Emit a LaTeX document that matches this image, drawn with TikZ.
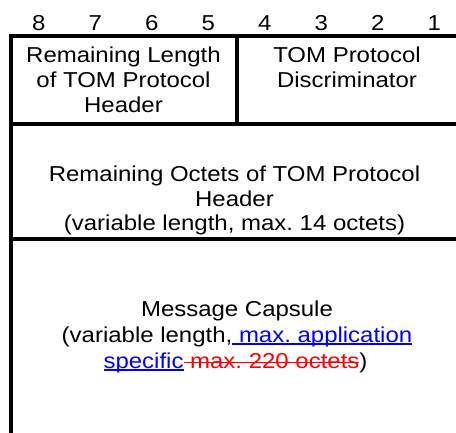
\documentclass[tikz,border=0pt]{standalone}
\usepackage{fontspec}
\setmainfont{Liberation Sans}[FakeStretch=1.11]
\frenchspacing
% underlined and struck-out runs of text, rule in the current colour
\newcommand\ulrun[1]{\setbox0\hbox{#1}\rlap{\rule[-2.6pt]{\wd0}{1.3pt}}\box0}
\newcommand\strun[1]{\setbox0\hbox{#1}\rlap{\rule[5pt]{\wd0}{1.3pt}}\box0}
\tikzset{
  frame/.style={line width=4pt, draw=black},
  lbl/.style={anchor=base, inner sep=0pt, font=\fontsize{21.6}{24.7}\selectfont},
}
\begin{document}
\begin{tikzpicture}[x=1pt, y=-1pt]
\useasboundingbox (0,0) rectangle (456,432);
\clip (0,0) rectangle (456,432);

% frame of the octet table
\draw[frame] (10.5,36) rectangle (462.5,445);
\draw[frame] (10.5,123.7) -- (462.5,123.7);
\draw[frame] (10.5,238.5) -- (462.5,238.5);
\draw[frame] (236.5,36) -- (236.5,123.7);

% bit numbers
\foreach \b [count=\i from 0] in {8,7,6,5,4,3,2,1}
  \node[lbl] (bit\b) at (38.75+56.5*\i, 30.5) {\b};

% octet 1
\node[lbl] (rl1) at (123.5, 62.5) {Remaining Length};
\node[lbl] (rl2) at (123.5, 87.3) {of TOM Protocol};
\node[lbl] (rl3) at (123.5, 112) {Header};
\node[lbl] (pd1) at (347, 62.5) {TOM Protocol};
\node[lbl] (pd2) at (347, 87.3) {Discriminator};

% remaining header octets
\node[lbl] (ro1) at (234.5, 181.5) {Remaining Octets of TOM Protocol};
\node[lbl] (ro2) at (234.5, 206) {Header};
\node[lbl] (ro3) at (234.5, 230.5) {(variable length, max. 14 octets)};

% message capsule
\node[lbl] (mc1) at (237, 316) {Message Capsule};
\node[lbl] (mc2) at (237, 342) {(variable length,{\color{blue}\ulrun{ max. application}}};
\node[lbl] (mc3) at (235.5, 368) {{\color{blue}\ulrun{specific}}{\color{red}\strun{ max. 220 octets}})};
\end{tikzpicture}
\end{document}
